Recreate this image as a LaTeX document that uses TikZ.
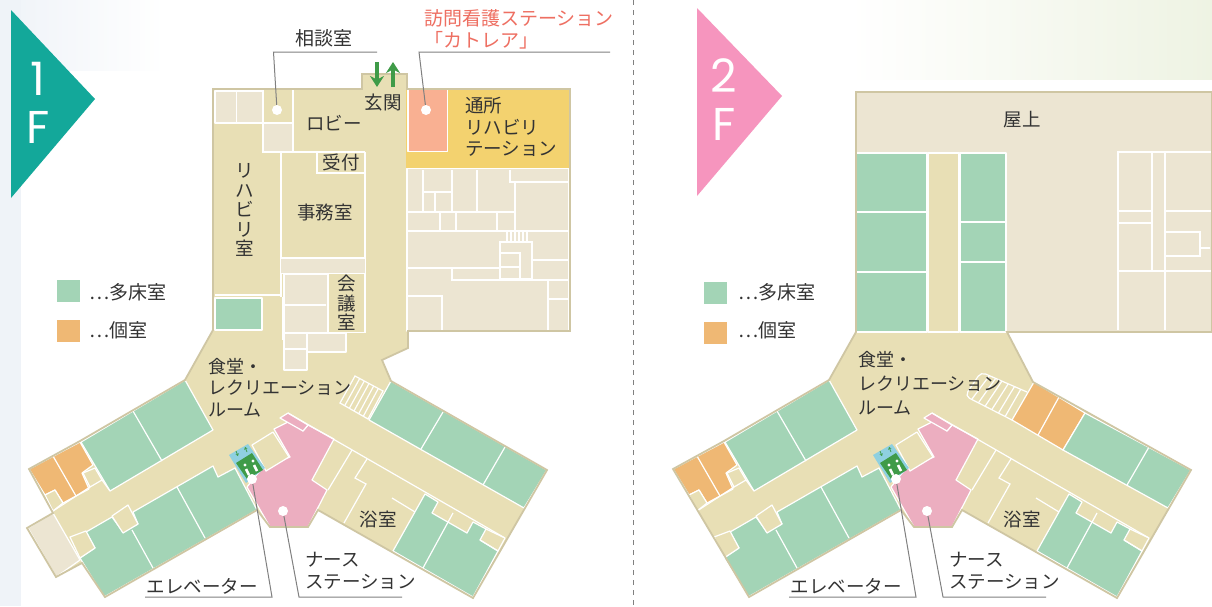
\documentclass[tikz,border=0pt]{standalone}
\usepackage{fontspec}
\setmainfont{Noto Sans CJK JP}
\newfontfamily\floorfont{Poppins}
\usepackage{tikz}
\usetikzlibrary{arrows.meta}
\usepackage{xcolor}
\definecolor{corridor}{HTML}{E8DFB5}
\definecolor{lightroom}{HTML}{ECE5D2}
\definecolor{shellline}{HTML}{CFC6A3}
\definecolor{multibed}{HTML}{A3D4B6}
\definecolor{singlebed}{HTML}{EFB874}
\definecolor{nurse}{HTML}{ECAEC0}
\definecolor{visitnurse}{HTML}{F9B092}
\definecolor{dayrehab}{HTML}{F3D26F}
\definecolor{liftblue}{HTML}{8FD0E0}
\definecolor{signgreen}{HTML}{3F9B48}
\definecolor{flagone}{HTML}{13A89A}
\definecolor{flagtwo}{HTML}{F695BE}
\definecolor{labeltext}{HTML}{333333}
\definecolor{visitlabel}{HTML}{EE6F62}
\definecolor{leaderline}{HTML}{808080}
\definecolor{paleblue}{HTML}{EFF3F8}
\definecolor{palegreen}{HTML}{EEF3E3}
\tikzset{
  wall/.style={white, line width=1.2pt},
  room/.style={draw=white, line width=1.2pt, line join=round},
  shell/.style={draw=shellline, line width=1.8pt, line join=miter},
  roomlabel/.style={text=labeltext, inner sep=0pt, align=left, font=\fontsize{18.5}{21.5}\selectfont},
  widelabel/.style={text=labeltext, inner sep=0pt, align=left, font=\fontsize{19}{21.5}\selectfont},
  halllabel/.style={text=labeltext, inner sep=0pt, align=left, font=\fontsize{18}{21.5}\selectfont},
  tallabel/.style={text=labeltext, inner sep=0pt, align=center, font=\fontsize{18.5}{19.5}\selectfont},
  floorlabel/.style={text=white, inner sep=0pt, align=center, font=\floorfont\fontsize{46}{48}\selectfont},
  legendbox/.style={minimum width=23pt, minimum height=22pt, inner sep=0pt},
  dot/.style={circle, fill=white, minimum size=10pt, inner sep=0pt},
  leader/.style={draw=leaderline, line width=1pt},
  liftarrow/.style={signgreen, line width=.8pt, -{Stealth[length=2.5pt, width=3.5pt]}},
  doorarrow/.style={signgreen, line width=4pt, -{Stealth[length=11pt, width=14pt]}},
}
% wing rooms, the same on both floors
\newcommand{\wingrooms}{
  % west wing
  \draw[room, fill=multibed] (185,380) -- (213,430) -- (110,491) -- (81,442) -- cycle;
  \draw[wall] (133,411) -- (162,461);
  \draw[room, fill=singlebed] (29,469) -- (80,442) -- (93,465) -- (82,473) -- (89,489) -- (76,496) -- (63,503) -- (55,490) -- (45,495) -- cycle;
  \draw[wall] (53,456) -- (76,496);
  \draw[room, fill=corridor] (83,473) -- (95,468) -- (102,480) -- (90,487) -- cycle;
  \draw[room, fill=corridor] (45,495) -- (55,490) -- (63,503) -- (53,511) -- cycle;
  \draw[wall] (53,511) -- (90,487);
  \draw[wall] (102,480) -- (110,491);
  \draw[room, fill=multibed] (80,558) -- (95,548) -- (86,532) -- (112,517) -- (123,532) -- (138,524) -- (133,512) -- (213,466) -- (218,477) -- (235,468) -- (257,510) -- (104,597) -- cycle;
  \draw[wall] (132,530) -- (153,568);
  \draw[wall] (177,487) -- (205,538);
  \draw[room, fill=corridor] (112,516) -- (128,505) -- (138,524) -- (123,533) -- cycle;
  \draw[room, fill=corridor] (70,537) -- (86,531) -- (95,548) -- (80,558) -- cycle;
  % nurse station and lift
  \draw[room, fill=nurse] (274,429) -- (290,421) -- (303,431) -- (308,425) -- (334,439) -- (312,480) -- (327,490) -- (308,527) -- (270,527) -- (247,487) -- (263,467) -- (290,457) -- cycle;
  \draw[room, fill=nurse] (280,418) -- (288,413) -- (308,425) -- (303,431) -- cycle;
  \draw[room, fill=corridor] (252,445) -- (273,432) -- (289,457) -- (266,471) -- cycle;
  \fill[liftblue] (229,455) -- (248,444) -- (265,468) -- (246,483) -- cycle;
  \fill[signgreen] (236,463) -- (252,453) -- (263,470) -- (247,479) -- cycle;
  \fill[white] (245,465) circle (1.6pt) (253,461) circle (1.6pt);
  \draw[white, line width=2.6pt] (246,469) -- (249,475) (254,465) -- (257,471);
  \draw[liftarrow] (236,451) -- (238,456);
  \draw[liftarrow] (247,452) -- (245,447);
  % east wing, south side
  \draw[wall] (288,413) -- (505,538);
  \draw[wall] (352,450) -- (328,490);
  \draw[wall] (367,459) -- (355,478) -- (366,484) -- (344,523);
  \draw[wall] (392,498) -- (415,512);
  \draw[room, fill=multibed] (425,494) -- (438,502) -- (432,513) -- (467,533) -- (473,522) -- (486,529) -- (480,540) -- (498,551) -- (473,597) -- (393,551) -- cycle;
  \draw[wall] (453,513) -- (423,568);
  \draw[wall] (480,540) -- (498,551) -- (505,538);
  \draw[wall] (486,529) -- (505,538);
}

\begin{document}
\begin{tikzpicture}[x=1pt, y=-1pt]
  \useasboundingbox (0,0) rectangle (1212,606);
  % paper
  \fill[white] (0,0) rectangle (1212,606);
  \shade[left color=paleblue, right color=white] (0,0) rectangle (165,70);
  \fill[paleblue] (0,0) rectangle (21,606);
  \shade[left color=white, right color=palegreen] (850,0) rectangle (1212,79);
  \draw[dashed, leaderline, line width=.8pt, dash pattern=on 5pt off 5pt] (633.5,0) -- (633.5,606);

  % floor flags
  \fill[flagone] (11,10) -- (95,99) -- (11,198) -- cycle;
  \fill[flagtwo] (697,8) -- (782,96) -- (697,196) -- cycle;
  \node[floorlabel] (oneF) at (38,103) {1\\F};
  \node[floorlabel] (twoF) at (724,100) {2\\F};

  % first floor
  \fill[corridor] (213,89) -- (362,89) -- (362,74) -- (407,74) -- (407,89) -- (570,89) -- (570,331) -- (408,331) -- (408,348) -- (382,360) -- (391,381) -- (547,470) -- (473,598) -- (318,510) -- (308,527) -- (270,527) -- (257,510) -- (105,597) -- (82,563) -- (56,577) -- (27,528) -- (53,513) -- (29,469) -- (80,441) -- (185,380) -- (213,330) -- cycle;
  \draw[room, fill=lightroom] (215,91) rectangle (236.5,123);
  \draw[room, fill=lightroom] (236.5,91) rectangle (263,123);
  \draw[room, fill=lightroom] (263,123) rectangle (293,152);
  \draw[wall] (263,89) -- (263,152) -- (365,152);
  \draw[wall] (293,89) -- (293,152);
  \draw[wall] (215,123) -- (263,123);
  \draw[wall] (281,152) -- (281,297);
  \draw[wall] (215,295) -- (281,295);
  \draw[room, fill=multibed] (215,298) rectangle (262,330);
  \draw[wall] (317,152) -- (317,173) -- (365,173);
  \draw[wall] (365,152) -- (365,333);
  \draw[wall] (281,258) -- (365,258);
  \draw[wall] (281,273) -- (365,273);
  \draw[wall] (283,297) -- (283,340);
  \fill[lightroom] (281,259) rectangle (365,272.5);
  \draw[room, fill=lightroom] (284,274) -- (328,274) -- (328,333) -- (346,333) -- (346,352) -- (307,352) -- (307,370) -- (284,370) -- cycle;
  \draw[wall] (284,305) -- (326,305);
  \draw[wall] (284,333) -- (328,333);
  \draw[wall] (284,349) -- (307,349);
  \draw[wall] (307,333) -- (307,370);
  \draw[wall] (328,332.5) -- (365,332.5);
  % yellow block and the rooms behind it
  \fill[dayrehab] (406,90) rectangle (569,168);
  \draw[room, fill=visitnurse] (408,89) rectangle (447.5,151.5);
  \draw[room, fill=lightroom] (407,168.5) rectangle (569,331);
  \draw[wall] (423,170) -- (423,212);
  \draw[wall] (423,192) -- (452,192);
  \draw[wall] (435,192) -- (435,212);
  \draw[wall] (452,170) -- (452,212);
  \draw[wall] (477,170) -- (477,212);
  \draw[wall] (510,170) -- (510,182) -- (568,182);
  \draw[wall] (515,182) -- (515,231);
  \draw[wall] (407,212) -- (515,212);
  \draw[wall] (407,231) -- (568,231);
  \draw[wall] (440,212) -- (440,231);
  \draw[wall] (456,212) -- (456,231);
  \draw[wall] (497,212) -- (497,231);
  \draw[wall] (507,231) -- (507,242);
  \draw[wall] (511,231) -- (511,242);
  \draw[wall] (515,231) -- (515,242);
  \draw[wall] (519,231) -- (519,242);
  \draw[wall] (523,231) -- (523,242);
  \draw[wall] (527,231) -- (527,242);
  \draw[wall] (500,242) rectangle (532,279);
  \draw[wall] (500,253) -- (520,253) -- (520,279);
  \draw[wall] (500,267) -- (520,267);
  \draw[wall] (407,268) -- (500,268);
  \draw[wall] (532,260) -- (568,260);
  \draw[wall] (452,268) -- (452,280) -- (568,280);
  \draw[wall] (548,280) -- (548,330);
  \draw[wall] (548,299) -- (568,299);
  \draw[wall] (407,296) -- (442,296) -- (442,330);
  % wings
  \wingrooms
  \draw[room, fill=lightroom] (53,513) -- (80,560) -- (56,577) -- (28,528) -- cycle;
  \draw[room, fill=multibed] (391,381) -- (547,470) -- (524,508) -- (369,420) -- cycle;
  \draw[wall] (443,412) -- (421,449);
  \draw[wall] (505,447) -- (483,485);
  \draw[wall] (355,376) -- (383,391) -- (368,419) -- (340,403) -- cycle;
  \draw[wall] (359.7,378.5) -- (344.7,405.7);
  \draw[wall] (364.3,381) -- (349.3,408.3);
  \draw[wall] (369,383.5) -- (354,411);
  \draw[wall] (373.7,386) -- (358.7,413.7);
  \draw[wall] (378.3,388.5) -- (363.3,416.3);
  \draw[shell] (213,89) -- (362,89) -- (362,74) -- (407,74) -- (407,89) -- (570,89) -- (570,331) -- (408,331) -- (408,348) -- (382,360) -- (391,381) -- (547,470) -- (473,598) -- (318,510) -- (308,527) -- (270,527) -- (257,510) -- (105,597) -- (82,563) -- (56,577) -- (27,528) -- (53,513) -- (29,469) -- (80,441) -- (185,380) -- (213,330) -- cycle;

  % second floor
  \fill[lightroom] (856,92) -- (1212,92) -- (1212,332) -- (856,332) -- cycle;
  \fill[corridor] (856,332) -- (1007,332) -- (1033,382) -- (1191,470) -- (1117,598) -- (962,510) -- (952,527) -- (914,527) -- (901,510) -- (749,597) -- (673,469) -- (724,441) -- (829,380) -- cycle;
  \draw[room, fill=corridor] (928,153) rectangle (959,332);
  \draw[room, fill=multibed] (856,153) rectangle (927,332);
  \draw[wall] (856,212) -- (927,212);
  \draw[wall] (856,272) -- (927,272);
  \draw[room, fill=multibed] (960,153) rectangle (1006,332);
  \draw[wall] (960,222) -- (1006,222);
  \draw[wall] (960,262) -- (1006,262);
  \draw[wall] (1118,330) -- (1118,152) -- (1212,152);
  \draw[wall] (1152,152) -- (1152,272);
  \draw[wall] (1165,152) -- (1165,330);
  \draw[wall] (1118,271) -- (1212,271);
  \draw[wall] (1118,211) -- (1152,211);
  \draw[wall] (1118,223) -- (1152,223);
  \draw[wall] (1165,211) -- (1212,211);
  \draw[wall] (1165,232) -- (1200,232) -- (1200,256) -- (1165,256);
  \draw[wall] (1200,248) -- (1210,248);
  \begin{scope}[xshift=644pt]
    \wingrooms
  \end{scope}
  \draw[room, fill=singlebed] (1034,382) -- (1085,413) -- (1063,450) -- (1012,420) -- cycle;
  \draw[wall] (1059,397) -- (1038,435);
  \draw[room, fill=multibed] (1085,413) -- (1191,470) -- (1168,508) -- (1063,450) -- cycle;
  \draw[wall] (1149,447) -- (1127,485);
  \draw[wall, rounded corners=5pt] (1012,420) -- (965,396) -- (981,372) -- (1027,392);
  \draw[wall] (989.3,375.7) -- (971.7,399.4);
  \draw[wall] (995.6,378.4) -- (978.4,402.8);
  \draw[wall] (1001.9,381.1) -- (985.1,406.2);
  \draw[wall] (1008.2,383.8) -- (991.8,409.6);
  \draw[wall] (1014.5,386.5) -- (998.5,413);
  \draw[wall] (1020.8,389.2) -- (1005.2,416.4);
  \draw[shell] (856,92) -- (1212,92) -- (1212,332) -- (1007,332) -- (1033,382) -- (1191,470) -- (1117,598) -- (962,510) -- (952,527) -- (914,527) -- (901,510) -- (749,597) -- (673,469) -- (724,441) -- (829,380) -- (856,332) -- cycle;

  % entrance arrows
  \coordinate (downtop) at (377,62);
  \coordinate (downend) at (377,87);
  \coordinate (uptop) at (393,62);
  \coordinate (upend) at (393,87);
  \draw[doorarrow] (downtop) -- (downend);
  \draw[doorarrow] (upend) -- (uptop);

  % legends
  \node[legendbox, fill=multibed] (greenone) at (68.5,291) {};
  \node[legendbox, fill=singlebed] (orangeone) at (68.5,331) {};
  \node[legendbox, fill=multibed] (greentwo) at (715.5,292.5) {};
  \node[legendbox, fill=singlebed] (orangetwo) at (715.5,332.5) {};
  \node[widelabel, anchor=west] (greenonetext) at (89,292) {…多床室};
  \node[widelabel, anchor=west] (orangeonetext) at (89,330) {…個室};
  \node[widelabel, anchor=west] (greentwotext) at (738,292) {…多床室};
  \node[widelabel, anchor=west] (orangetwotext) at (738,330) {…個室};

  % labels, first floor
  \node[widelabel] (soudan) at (324,38) {相談室};
  \node[widelabel, text=visitlabel, anchor=north west] (houmon) at (424,9.5) {訪問看護ステーション\\「カトレア」};
  \node[roomlabel] (genkan) at (383,103) {玄関};
  \node[roomlabel] (lobby) at (334,123) {ロビー};
  \node[roomlabel, anchor=north west] (tsusho) at (465,97) {通所\\リハビリ\\テーション};
  \node[roomlabel] (uketsuke) at (341,162) {受付};
  \node[roomlabel] (jimu) at (325,212) {事務室};
  \node[tallabel] (rehab) at (245,210) {リ\\ハ\\ビ\\リ\\室};
  \node[tallabel] (kaigi) at (347,303) {会\\議\\室};
  \node[halllabel, anchor=north west] (shokudo) at (208,358) {食堂・\\レクリエーション\\ルーム};
  \node[roomlabel] (yoku) at (378,519) {浴室};
  \node[roomlabel, anchor=north west] (nurselabel) at (305,552) {ナース\\ステーション};
  \node[roomlabel] (lift) at (202,586) {エレベーター};

  % labels, second floor
  \node[roomlabel] (okujo) at (1022,120) {屋上};
  \node[halllabel, anchor=north west, font=\fontsize{18}{24}\selectfont] (shokudotwo) at (858,351) {食堂・\\レクリエーション\\ルーム};
  \node[roomlabel] (yokutwo) at (1022,519) {浴室};
  \node[roomlabel, anchor=north west] (nurselabeltwo) at (949,552) {ナース\\ステーション};
  \node[roomlabel] (lifttwo) at (846,586) {エレベーター};

  % leaders
  \node[dot] (soudandot) at (277,110) {};
  \node[dot] (houmondot) at (426,110) {};
  \node[dot] (liftdot) at (252,479) {};
  \node[dot] (nursedot) at (283,511) {};
  \node[dot] (liftdottwo) at (896,479) {};
  \node[dot] (nursedottwo) at (927,511) {};
  \draw[leader] (soudandot) -- (273.5,52) -- (377,52);
  \draw[leader] (houmondot) -- (419,52) -- (610,52);
  \draw[leader] (liftdot) -- (272,597) -- (145,597);
  \draw[leader] (nursedot) -- (299,597) -- (402,597);
  \draw[leader] (liftdottwo) -- (916,597) -- (789,597);
  \draw[leader] (nursedottwo) -- (943,597) -- (1046,597);
\end{tikzpicture}
\end{document}
